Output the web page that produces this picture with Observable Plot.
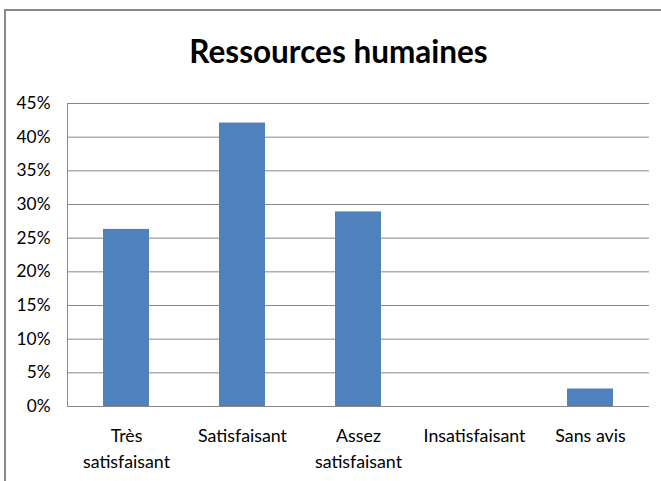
<!DOCTYPE html>
<html>
<head>
<meta charset="utf-8">
<script src="https://cdn.jsdelivr.net/npm/d3@7"></script>
<script src="https://cdn.jsdelivr.net/npm/@observablehq/plot@0.6"></script>
<style>
  html, body { margin: 0; padding: 0; background: #fff; overflow: hidden; }
  #wrap { position: relative; width: 661px; height: 481px; overflow: hidden; background: #fff; }
  #border { position: absolute; left: 4px; top: 9px; width: 720px; height: 600px; border: 2px solid #888; box-sizing: border-box; }
  #chart { position: absolute; left: 0; top: 0; }
</style>
</head>
<body>
<div id="wrap"><div id="border"></div><div id="chart"></div></div>
<script>
const title = "Ressources humaines";
const categories = ["Très satisfaisant", "Satisfaisant", "Assez satisfaisant", "Insatisfaisant", "Sans avis"];
const categoryLabels = ["Très\nsatisfaisant", "Satisfaisant", "Assez\nsatisfaisant", "Insatisfaisant", "Sans avis"];
const values = [0.263, 0.421, 0.289, 0, 0.026];
const yTicks = [0, 0.05, 0.10, 0.15, 0.20, 0.25, 0.30, 0.35, 0.40, 0.45];

const data = categories.map((c, i) => ({category: c, value: values[i]}));
const labelOf = new Map(categories.map((c, i) => [c, categoryLabels[i]]));

const font = 'Lato, "Open Sans", sans-serif';
const grey = "#888888";

// fit font sizes so the text widths match the reference (Calibri-like) widths
const ctx = document.createElement("canvas").getContext("2d");
function fitSize(text, targetWidth, weight) {
  ctx.font = `${weight} 100px ${font}`;
  return Math.round(100 * targetWidth / ctx.measureText(text).width * 10) / 10;
}
const titleSize = fitSize(title, 298, "bold");
const xSize = fitSize("Satisfaisant", 89, "normal");
const ySize = fitSize("45%", 34, "normal");

const chart = Plot.plot({
  width: 661,
  height: 481,
  marginLeft: 67,
  marginRight: 12,
  marginTop: 103,
  marginBottom: 75,
  style: {fontFamily: font, fontSize: "18px", color: "#000", background: "transparent"},
  x: {type: "band", domain: categories, paddingInner: 0.6, paddingOuter: 0.3, axis: null},
  y: {domain: [0, 0.45], axis: null},
  marks: [
    Plot.gridY(yTicks, {stroke: grey, strokeOpacity: 1, strokeWidth: 1}),
    Plot.frame({anchor: "left", stroke: grey, strokeWidth: 1}),
    Plot.barY(data, {x: "category", y: "value", fill: "#4F81BD"}),
    Plot.ruleY([0], {stroke: grey, strokeWidth: 1}),
    Plot.axisY(yTicks, {tickFormat: d3.format(".0%"), tickSize: 0, tickPadding: 17, fontSize: ySize, fontFamily: font, label: null}),
    Plot.axisX({tickFormat: d => labelOf.get(d), tickSize: 0, tickPadding: 17, fontSize: xSize, fontFamily: font, lineHeight: 26 / xSize, label: null}),
    Plot.text([title], {frameAnchor: "top", dx: -20, dy: -51, lineAnchor: "middle", fontSize: titleSize, fontWeight: "bold", fontFamily: font, fill: "#000"})
  ]
});
document.getElementById("chart").appendChild(chart);
</script>
</body>
</html>
